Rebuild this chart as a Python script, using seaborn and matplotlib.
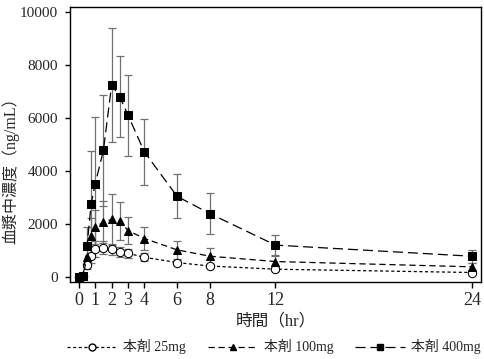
import numpy as np
import pandas as pd
import seaborn as sns
import matplotlib.pyplot as plt

# plasma concentration time course (mean +- SD)
hours = [0, 0.25, 0.5, 0.75, 1, 1.5, 2, 2.5, 3, 4, 6, 8, 12, 24]
conc_25 = [0, 20, 450, 790, 1040, 1100, 1040, 940, 890, 740, 540, 410, 290, 165]
sd_25 = [0, 30, 150, 250, 300, 250, 200, 200, 180, 150, 90, 80, 60, 40]
conc_100 = [0, 30, 760, 1560, 1880, 2070, 2170, 2110, 1750, 1450, 1020, 780, 580, 380]
sd_100 = [0, 40, 400, 650, 640, 800, 960, 720, 520, 420, 340, 310, 200, 130]
conc_400 = [0, 30, 1170, 2760, 3520, 4780, 7250, 6800, 6110, 4720, 3040, 2390, 1200, 780]
sd_400 = [0, 50, 700, 2000, 2520, 2090, 2150, 1530, 1530, 1230, 830, 770, 390, 240]

groups = ['本剤 25mg', '本剤 100mg', '本剤 400mg']
xticks = [0, 1, 2, 3, 4, 6, 8, 12, 24]
yticks = [0, 2000, 4000, 6000, 8000, 10000]

df = pd.concat([
    pd.DataFrame({'time': hours, 'conc': conc_25, 'sd': sd_25, 'group': groups[0]}),
    pd.DataFrame({'time': hours, 'conc': conc_100, 'sd': sd_100, 'group': groups[1]}),
    pd.DataFrame({'time': hours, 'conc': conc_400, 'sd': sd_400, 'group': groups[2]}),
])

sns.set_style('ticks')
plt.rcParams['font.family'] = ['Liberation Serif', 'Noto Sans CJK JP']

fig = plt.figure(figsize=(4.85, 3.59), dpi=100)
ax = fig.add_axes([0.144, 0.214, 0.848, 0.766])

# error bars first, underneath the markers
for g in groups:
    d = df[df['group'] == g]
    ax.errorbar(d['time'], d['conc'], yerr=d['sd'], fmt='none',
                ecolor='#707070', elinewidth=0.9, capsize=3, capthick=0.9, zorder=1)

sns.lineplot(data=df, x='time', y='conc', hue='group', style='group',
             palette=['black', 'black', 'black'],
             markers={groups[0]: 'o', groups[1]: '^', groups[2]: 's'},
             dashes={groups[0]: (2.5, 2), groups[1]: (5, 3), groups[2]: (8, 4)},
             markersize=6, linewidth=0.9, markeredgecolor='black',
             legend=False, ax=ax, zorder=3, errorbar=None)

# open circles for 25mg
ax.lines[-3].set_markerfacecolor('white')
for ln in ax.lines:
    ln.set_zorder(3)

ax.set_xlim(-0.55, 24.55)
ax.set_ylim(-200, 10190)
ax.set_xticks(xticks)
ax.set_yticks(yticks)
ax.tick_params(axis='y', labelsize=11, length=3.5, width=1, color='black', pad=5)
ax.tick_params(axis='x', labelsize=13, length=4, width=1, color='black', pad=3)
for s in ax.spines.values():
    s.set_linewidth(1)
    s.set_color('black')

ax.set_xlabel('時間（hr）', fontsize=12, labelpad=3)
ax.set_ylabel('血漿中濃度（ng/mL）', fontsize=11.5)
ax.yaxis.set_label_coords(-0.122, 0.42)

handles = [
    plt.Line2D([], [], color='black', lw=0.9, dashes=(2.5, 2), marker='o',
               markerfacecolor='white', markeredgecolor='black', markersize=5),
    plt.Line2D([], [], color='black', lw=0.9, dashes=(5, 3), marker='^',
               markerfacecolor='black', markersize=5),
    plt.Line2D([], [], color='black', lw=0.9, dashes=(8, 4), marker='s',
               markerfacecolor='black', markersize=5),
]
fig.legend(handles, groups, loc='lower center', bbox_to_anchor=(0.565, -0.022),
           ncol=3, frameon=False, fontsize=10, handlelength=3.6,
           handletextpad=0.4, columnspacing=1.6)

fig.savefig('out.png', dpi=100)
